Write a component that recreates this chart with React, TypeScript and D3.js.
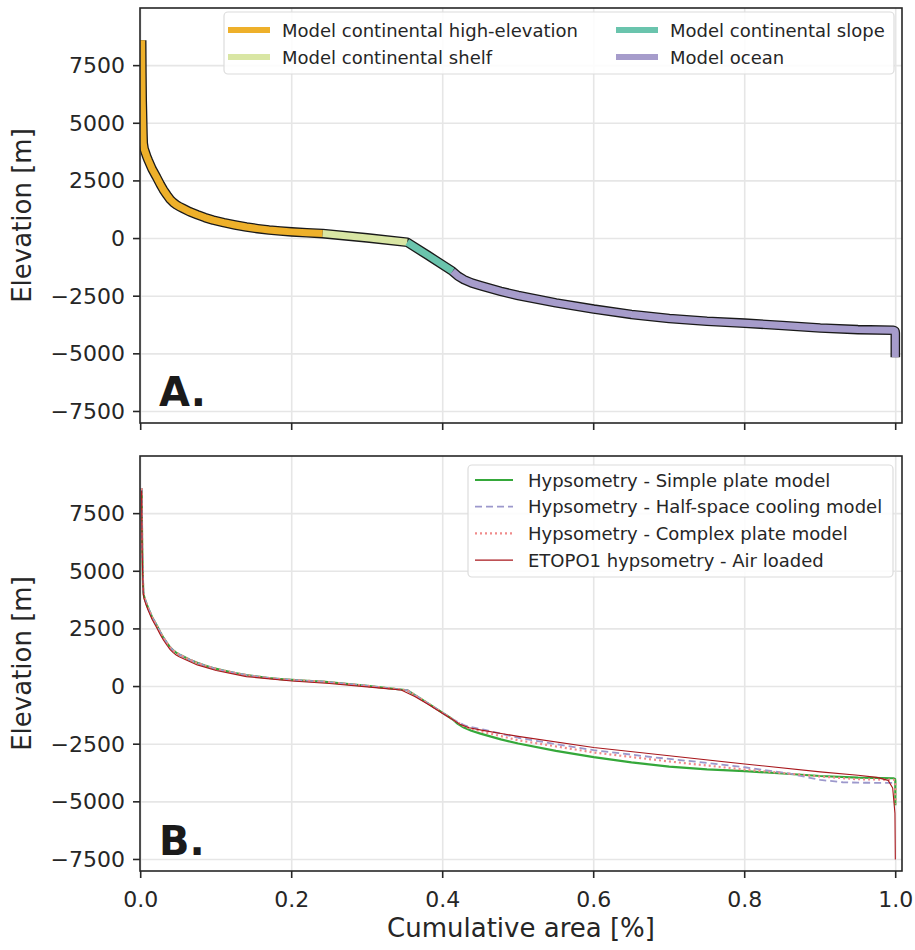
import { useEffect, useRef } from "react";
import { select, scaleLinear, line } from "d3";

// cumulative area (fraction) / elevation (m)
const highElevation: [number, number][] = [
  [0.0013, 8600], [0.0016, 7200], [0.002, 6000], [0.0026, 5130], [0.003, 4550],
  [0.0034, 4130], [0.0045, 3900], [0.006, 3750], [0.008, 3560], [0.0101, 3390],
  [0.015, 3020], [0.021, 2665], [0.026, 2350], [0.03, 2120], [0.035, 1880],
  [0.039, 1700], [0.043, 1570], [0.047, 1470], [0.051, 1390], [0.056, 1310],
  [0.065, 1160], [0.075, 1030], [0.085, 910], [0.096, 800], [0.11, 690],
  [0.125, 590], [0.14, 500], [0.155, 430], [0.17, 370], [0.185, 325],
  [0.2, 290], [0.22, 250], [0.241, 215],
];
const shelf: [number, number][] = [[0.241, 215], [0.3, 30], [0.353, -160]];
const slope: [number, number][] = [[0.353, -160], [0.38, -720], [0.413, -1420]];
const ocean: [number, number][] = [
  [0.413, -1420], [0.42, -1620], [0.428, -1780], [0.438, -1920], [0.45, -2040],
  [0.477, -2290], [0.5, -2470], [0.55, -2790], [0.6, -3060], [0.65, -3290],
  [0.7, -3470], [0.75, -3590], [0.8, -3670], [0.85, -3770], [0.9, -3880],
  [0.95, -3950], [0.997, -3978], [0.9991, -4010], [0.9995, -4100], [0.9995, -5150],
];

const halfSpaceTail: [number, number][] = [
  [0.43, -1700], [0.453, -1860], [0.5, -2220], [0.55, -2500], [0.6, -2760],
  [0.68, -3070], [0.75, -3310], [0.8, -3500], [0.86, -3780], [0.9, -4050],
  [0.93, -4150], [0.95, -4170], [0.999, -4180], [0.9995, -4250],
];
const complexTail: [number, number][] = [
  [0.43, -1750], [0.453, -1960], [0.5, -2330], [0.6, -2860], [0.7, -3250],
  [0.8, -3600], [0.9, -3900], [0.95, -4020], [0.997, -4040], [0.9991, -4070],
  [0.9995, -4150], [0.9995, -5100],
];
const etopo: [number, number][] = [
  [0.0012, 8500], [0.0015, 7100], [0.0019, 5900], [0.0025, 5030], [0.003, 4450],
  [0.0034, 4030], [0.0045, 3800], [0.006, 3650], [0.008, 3460], [0.0101, 3290],
  [0.015, 2920], [0.021, 2560], [0.026, 2250], [0.03, 2020], [0.035, 1780],
  [0.039, 1600], [0.043, 1470], [0.047, 1370], [0.051, 1290], [0.056, 1220],
  [0.075, 940], [0.1, 700], [0.14, 430], [0.2, 240], [0.25, 130],
  [0.318, -70], [0.345, -150], [0.363, -430], [0.38, -760], [0.399, -1150],
  [0.413, -1430], [0.422, -1620], [0.435, -1790], [0.453, -1900], [0.5, -2160],
  [0.6, -2640], [0.7, -3000], [0.8, -3360], [0.9, -3700], [0.95, -3850],
  [0.975, -3940], [0.99, -4070], [0.996, -4400], [0.999, -5500], [0.9995, -7500],
];

const xTicks = [0, 0.2, 0.4, 0.6, 0.8, 1.0];
const yTicks = [7500, 5000, 2500, 0, -2500, -5000, -7500];

const segmentNames = [
  "Model continental high-elevation",
  "Model continental shelf",
  "Model continental slope",
  "Model ocean",
];
const segmentColors = ["#eeb02a", "#d9e6a4", "#6ac4ad", "#a69ccb"];

const seriesNames = [
  "Hypsometry - Simple plate model",
  "Hypsometry - Half-space cooling model",
  "Hypsometry - Complex plate model",
  "ETOPO1 hypsometry - Air loaded",
];

const FONT = "DejaVu Sans, sans-serif";

export default function App() {
  const svgRef = useRef<SVGSVGElement>(null);

  useEffect(() => {
    document.body.style.margin = "0";
    const svg = select(svgRef.current);
    svg.selectAll("*").remove();

    const left = 140, right = 902;
    const xScale = scaleLinear().domain([0, 1]).range([140.7, 895.7]);

    const modelCurve = [...highElevation, ...shelf.slice(1), ...slope.slice(1), ...ocean.slice(1)];
    const upToSlope = [...highElevation, ...shelf.slice(1), ...slope.slice(1)];

    const defs = svg.append("defs");

    function panel(id: string, top: number, bottom: number, showX: boolean) {
      const yScale = scaleLinear().domain([-8000, 10000]).range([bottom, top]);
      defs.append("clipPath").attr("id", id)
        .append("rect").attr("x", left).attr("y", top)
        .attr("width", right - left).attr("height", bottom - top);
      const g = svg.append("g");
      // grid
      g.selectAll(".gx").data(xTicks).join("line")
        .attr("x1", (d) => xScale(d)).attr("x2", (d) => xScale(d))
        .attr("y1", top).attr("y2", bottom)
        .attr("stroke", "#e6e6e6").attr("stroke-width", 1.6);
      g.selectAll(".gy").data(yTicks).join("line")
        .attr("x1", left).attr("x2", right)
        .attr("y1", (d) => yScale(d)).attr("y2", (d) => yScale(d))
        .attr("stroke", "#e6e6e6").attr("stroke-width", 1.6);
      // ticks
      g.selectAll(".ty").data(yTicks).join("line")
        .attr("x1", left - 7).attr("x2", left)
        .attr("y1", (d) => yScale(d)).attr("y2", (d) => yScale(d))
        .attr("stroke", "#262626").attr("stroke-width", 1.6);
      g.selectAll(".ly").data(yTicks).join("text")
        .attr("x", 125).attr("y", (d) => yScale(d))
        .attr("text-anchor", "end").attr("dominant-baseline", "central")
        .attr("font-family", FONT).attr("font-size", 22).attr("fill", "#262626")
        .text((d) => (d < 0 ? "\u2212" + Math.abs(d) : String(d)));
      g.selectAll(".tx").data(xTicks).join("line")
        .attr("x1", (d) => xScale(d)).attr("x2", (d) => xScale(d))
        .attr("y1", bottom).attr("y2", bottom + 7)
        .attr("stroke", "#262626").attr("stroke-width", 1.6);
      if (showX) {
        g.selectAll(".lx").data(xTicks).join("text")
          .attr("x", (d) => xScale(d)).attr("y", bottom + 36)
          .attr("text-anchor", "middle")
          .attr("font-family", FONT).attr("font-size", 22).attr("fill", "#262626")
          .text((d) => d.toFixed(1));
      }
      g.append("text")
        .attr("transform", `translate(31, ${(top + bottom) / 2}) rotate(-90)`)
        .attr("text-anchor", "middle")
        .attr("font-family", FONT).attr("font-size", 26).attr("fill", "#262626")
        .text("Elevation [m]");
      const content = svg.append("g").attr("clip-path", `url(#${id})`);
      return { content, yScale };
    }

    // panel A
    const A = panel("clipA", 8, 423, false);
    const lineA = line<[number, number]>().x((d) => xScale(d[0])).y((d) => A.yScale(d[1]));
    A.content.append("path").attr("d", lineA(modelCurve))
      .attr("fill", "none").attr("stroke", "#1a1a1a").attr("stroke-width", 9.6)
      .attr("stroke-linejoin", "round");
    [highElevation, shelf, slope, ocean].forEach((seg, i) => {
      A.content.append("path").attr("d", lineA(seg))
        .attr("fill", "none").attr("stroke", segmentColors[i]).attr("stroke-width", 7)
        .attr("stroke-linejoin", "round");
    });

    // panel B
    const B = panel("clipB", 456, 871, true);
    const lineB = line<[number, number]>().x((d) => xScale(d[0])).y((d) => B.yScale(d[1]));
    const seriesData = [modelCurve, [...upToSlope, ...halfSpaceTail], [...upToSlope, ...complexTail], etopo];
    const seriesStyle = [
      { color: "#35a83a", width: 2.2, dash: null as string | null },
      { color: "#9c98cc", width: 1.8, dash: "7,4" },
      { color: "#f08a8a", width: 2.2, dash: "2,3" },
      { color: "#a8171c", width: 1.1, dash: null },
    ];
    seriesData.forEach((d, i) => {
      B.content.append("path").attr("d", lineB(d))
        .attr("fill", "none").attr("stroke", seriesStyle[i].color)
        .attr("stroke-width", seriesStyle[i].width)
        .attr("stroke-dasharray", seriesStyle[i].dash)
        .attr("stroke-linejoin", "round");
    });

    // spines
    [[8, 423], [456, 871]].forEach(([t, b]) => {
      svg.append("rect").attr("x", left).attr("y", t)
        .attr("width", right - left).attr("height", b - t)
        .attr("fill", "none").attr("stroke", "#262626").attr("stroke-width", 1.6);
    });

    // panel letters
    [["A.", 406], ["B.", 855]].forEach(([t, y]) => {
      svg.append("text").attr("x", 159).attr("y", y as number)
        .attr("font-family", FONT).attr("font-weight", "bold").attr("font-size", 40)
        .attr("fill", "#1a1a1a").text(t as string);
    });

    // legend A
    const legA = svg.append("g");
    legA.append("rect").attr("x", 224).attr("y", 12).attr("width", 670).attr("height", 62)
      .attr("rx", 4).attr("fill", "white").attr("fill-opacity", 0.85)
      .attr("stroke", "#dcdcdc").attr("stroke-width", 1.2);
    segmentNames.forEach((name, i) => {
      const col = i === 0 || i === 1 ? 0 : 1;
      const row = i === 0 || i === 2 ? 0 : 1;
      const hx = col === 0 ? 228 : 616;
      const ty = 30 + row * 27;
      legA.append("line").attr("x1", hx).attr("x2", hx + 42).attr("y1", ty).attr("y2", ty)
        .attr("stroke", segmentColors[i]).attr("stroke-width", 6);
      legA.append("text").attr("x", hx + 54).attr("y", ty)
        .attr("dominant-baseline", "central")
        .attr("font-family", FONT).attr("font-size", 18).attr("fill", "#262626")
        .text(name);
    });

    // legend B
    const legB = svg.append("g");
    legB.append("rect").attr("x", 468).attr("y", 465).attr("width", 425).attr("height", 112)
      .attr("rx", 4).attr("fill", "white").attr("fill-opacity", 0.85)
      .attr("stroke", "#dcdcdc").attr("stroke-width", 1.2);
    seriesNames.forEach((name, i) => {
      const ty = 480 + i * 26.7;
      legB.append("line").attr("x1", 475).attr("x2", 513).attr("y1", ty).attr("y2", ty)
        .attr("stroke", seriesStyle[i].color).attr("stroke-width", seriesStyle[i].width)
        .attr("stroke-dasharray", seriesStyle[i].dash);
      legB.append("text").attr("x", 528).attr("y", ty)
        .attr("dominant-baseline", "central")
        .attr("font-family", FONT).attr("font-size", 18).attr("fill", "#262626")
        .text(name);
    });

    // x label
    svg.append("text").attr("x", (left + right) / 2).attr("y", 937)
      .attr("text-anchor", "middle")
      .attr("font-family", FONT).attr("font-size", 26).attr("fill", "#262626")
      .text("Cumulative area [%]");
  }, []);

  return <svg ref={svgRef} width={915} height={950} style={{ display: "block" }}></svg>;
}
